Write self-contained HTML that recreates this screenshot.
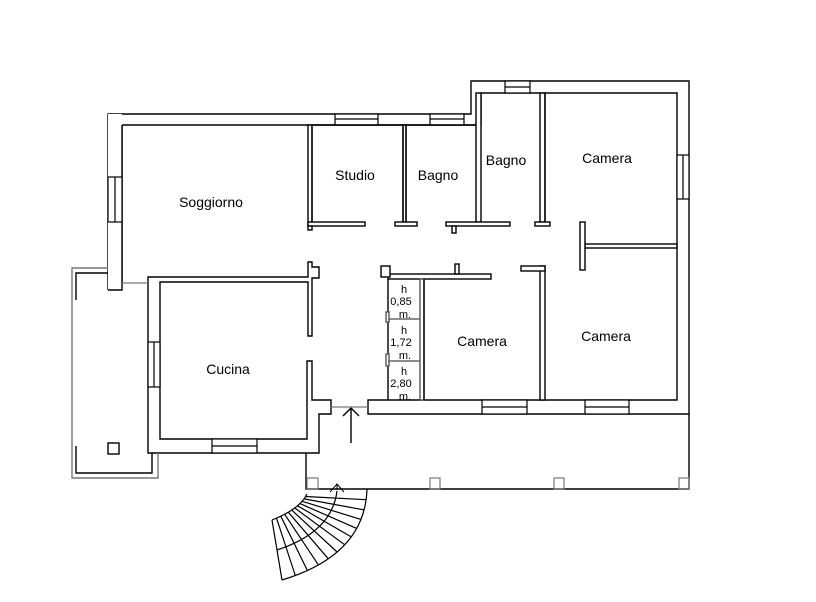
<!DOCTYPE html>
<html><head><meta charset="utf-8"><style>
html,body{margin:0;padding:0;background:#fff;}
svg{display:block}
text{font-family:"Liberation Sans",sans-serif;fill:#000}
</style></head><body>
<svg id="s" width="816" height="602" viewBox="0 0 816 602" xmlns="http://www.w3.org/2000/svg">
<g fill="#fff" stroke="#000" stroke-width="1.4">
<path d="M108,290 V114 H471 V81 H689 V414 H368 V400 H677 V93 H481 V125 H476 V125 H122 V283" fill="none"/>
<rect x="108" y="114" width="14" height="176" stroke="none"/>
<path d="M108,290 H122 V125" fill="none"/>
<rect x="308" y="125" width="4" height="101"/>
<rect x="308" y="222" width="57" height="4"/>
<rect x="308" y="226" width="4" height="4"/>
<rect x="403" y="125" width="3" height="97"/>
<rect x="395" y="222" width="22" height="4"/>
<rect x="476" y="93" width="5" height="129"/>
<rect x="446" y="222" width="64" height="4"/>
<rect x="452" y="226" width="4" height="7"/>
<rect x="540" y="93" width="5" height="129"/>
<rect x="535" y="222" width="15" height="4"/>
<rect x="585" y="244" width="92" height="4"/>
<rect x="580" y="222" width="5" height="48"/>
<rect x="540" y="266" width="5" height="134"/>
<rect x="521" y="266" width="24" height="5"/>
<rect x="388" y="274" width="103" height="5"/>
<rect x="455" y="264" width="4" height="10"/>
<rect x="381" y="266" width="9" height="11"/>
<rect x="420" y="279" width="4" height="121" stroke="#555"/>
<line x1="388" y1="279" x2="388" y2="400"/>
<rect x="386" y="312" width="3" height="10" stroke="#555"/>
<rect x="386" y="354" width="3" height="12" stroke="#555"/>
<line x1="388" y1="319" x2="420" y2="319" stroke="#666"/>
<line x1="388" y1="361" x2="420" y2="361" stroke="#666"/>
<path d="M308,277 H148 V453 H319 V414 H331 V400 H312 V361 H307 V439 H160 V282 H308 V336 H312 V278 H319 V267 H312 V262 H308 Z" fill="#fff"/>
<g stroke-width="1.2">
<rect x="335" y="114" width="43" height="11"/><line x1="335" y1="119" x2="378" y2="119"/>
<rect x="430" y="114" width="34" height="11"/><line x1="430" y1="119" x2="464" y2="119"/>
<rect x="505" y="81" width="25" height="12"/><line x1="505" y1="87" x2="530" y2="87"/>
<rect x="677" y="155" width="12" height="44"/><line x1="683" y1="155" x2="683" y2="199"/>
<rect x="108" y="177" width="14" height="45"/><line x1="115" y1="177" x2="115" y2="222"/>
<rect x="148" y="342" width="12" height="45"/><line x1="154" y1="342" x2="154" y2="387"/>
<rect x="212" y="439" width="45" height="14"/><line x1="212" y1="446" x2="257" y2="446"/>
<rect x="482" y="400" width="45" height="14"/><line x1="482" y1="407" x2="527" y2="407"/>
<rect x="585" y="400" width="44" height="14"/><line x1="585" y1="407" x2="629" y2="407"/>
</g>
</g>
<g fill="none" stroke="#000" stroke-width="1.4">
<path d="M312,222 V125 H403 V222"/>
<path d="M406,222 V125 H476"/>
<path d="M545,222 V93"/>
<path d="M424,400 V279"/>
<path d="M306,453 V489 H689 V414"/>
<path d="M108,268 H72 V478 H158 V453" stroke="#777"/>
<path d="M108,273 H76 V300 M76,446 V473 H152 V453"/>
<rect x="108" y="443" width="11" height="11"/>
<path d="M351,443 V408 M343,416 L351,408 L359,416"/>
<path d="M337,490 V484 M330,492 L337,484 L344,492" stroke-width="1"/>
</g>
<g fill="none" stroke="#777" stroke-width="1.2">
<line x1="122" y1="283" x2="148" y2="283"/>
<line x1="331" y1="407" x2="368" y2="407"/>
<rect x="307" y="478" width="11" height="11"/>
<rect x="430" y="478" width="10" height="11"/>
<rect x="554" y="478" width="10" height="11"/>
<rect x="679" y="478" width="10" height="11"/>
</g>
<g id="stairs" fill="none" stroke="#000" stroke-width="1.2"></g>
<g font-size="14" text-anchor="middle">
<text x="211" y="207">Soggiorno</text>
<text x="355" y="180">Studio</text>
<text x="438" y="180">Bagno</text>
<text x="506" y="165">Bagno</text>
<text x="607" y="163">Camera</text>
<text x="482" y="346">Camera</text>
<text x="606" y="341">Camera</text>
<text x="228" y="374">Cucina</text>
</g>
<g font-size="11" text-anchor="middle">
<text x="404" y="293">h</text><text x="401" y="305">0,85</text><text x="405" y="318">m.</text>
<text x="404" y="334">h</text><text x="401" y="346">1,72</text><text x="405" y="359">m.</text>
<text x="404" y="375">h</text><text x="401" y="387">2,80</text><text x="405" y="400">m.</text>
</g>
</svg>
<script>
(function(){
var g=document.getElementById('stairs');
function q(a,c,b,t){return [(1-t)*(1-t)*a[0]+2*(1-t)*t*c[0]+t*t*b[0],(1-t)*(1-t)*a[1]+2*(1-t)*t*c[1]+t*t*b[1]];}
var I=[[307,494],[300,509],[272,520]],O=[[367,489],[365,555],[282,580]],M=[[337,491],[332,532],[277,550]];
var d='M'+I[0]+' Q'+I[1]+' '+I[2]+' M'+O[0]+' Q'+O[1]+' '+O[2]+' M'+M[0]+' Q'+M[1]+' '+M[2]+' M272,520 L282,580';
var n=12;
for(var i=1;i<n;i++){var t=i/n;var a=q(I[0],I[1],I[2],t),b=q(O[0],O[1],O[2],t);d+=' M'+a[0].toFixed(1)+','+a[1].toFixed(1)+' L'+b[0].toFixed(1)+','+b[1].toFixed(1);}
var p=document.createElementNS('http://www.w3.org/2000/svg','path');p.setAttribute('d',d);g.appendChild(p);
})();
</script>
</body></html>
